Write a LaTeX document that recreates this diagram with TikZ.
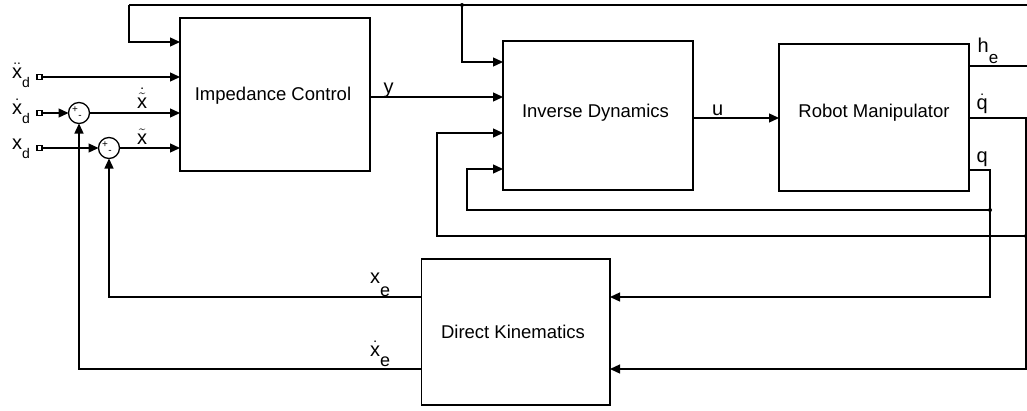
\documentclass[tikz,border=0pt]{standalone}
\usepackage{fontspec}
\setmainfont{Liberation Sans}
\setmathsf{Liberation Sans}
\usetikzlibrary{arrows.meta}
\newcommand\lowsub[3]{\raisebox{-#2pt}{\fontsize{#1}{#1}\selectfont #3}}
\newcommand\vx{\mathsf{x}}
\begin{document}
\begin{tikzpicture}[x=1pt,y=-1pt, line width=1.3pt,
  >={Triangle[length=10pt,width=9pt]},
  blk/.style={draw, rectangle, outer sep=0pt, inner sep=0pt, anchor=north west},
  btxt/.style={anchor=base, font=\fontsize{18.5}{22}\selectfont, inner sep=0pt},
  sig/.style={anchor=base west, font=\fontsize{20}{24}\selectfont, inner sep=0pt},
  sumc/.style={draw, circle, minimum size=21pt, inner sep=0pt, outer sep=0pt},
  sgn/.style={font=\fontsize{10}{10}\selectfont, inner sep=0pt},
  port/.style={draw, rectangle, minimum size=5pt, inner sep=0pt, line width=1.1pt, fill=white},
  jdot/.style={circle, fill, inner sep=0pt, minimum size=4pt}]
\useasboundingbox (0,0) rectangle (1027,410);

% blocks
\node[blk, minimum width=190pt, minimum height=153pt] (imp) at (180,18) {};
\node[blk, minimum width=190pt, minimum height=149pt] (inv) at (503,41) {};
\node[blk, minimum width=190pt, minimum height=147pt] (rob) at (779,44) {};
\node[blk, minimum width=188.5pt, minimum height=146pt] (dk) at (421.5,259) {};
\node[btxt] (impT) at (273,100) {Impedance Control};
\node[btxt] (invT) at (595.5,117.3) {Inverse Dynamics};
\node[btxt] (robT) at (874,117.3) {Robot Manipulator};
\node[btxt] (dkT) at (513,338) {Direct Kinematics};

% input ports and summing junctions
\node[port] (p1) at (39.5,77) {};
\node[port] (p2) at (39.5,113) {};
\node[port] (p3) at (39.5,148) {};
\node[sumc] (s1) at (79,113) {};
\node[sumc] (s2) at (109,148) {};
\node[sgn] (s1p) at ([shift={(-4,-3)}]s1.center) {+};
\node[sgn] (s1m) at ([shift={(1,4)}]s1.center) {-};
\node[sgn] (s2p) at ([shift={(-4,-3)}]s2.center) {+};
\node[sgn] (s2m) at ([shift={(1,4)}]s2.center) {-};

% coordinates
\coordinate (topL) at (129,5);
\coordinate (topR) at (1027,5);
\coordinate (jTop) at (462,5);
\coordinate (heEnd) at (1027,66);
\coordinate (jq) at (990,210);
\coordinate (jqd) at (1026,236);
\coordinate (lo) at (437,236);
\coordinate (li) at (467,210);

% connectors
\draw (topR) -- (topL);
\draw[->] (topL) |- (imp.west |- 0,42);
\draw[->] (jTop) |- (inv.west |- 0,62);
\node[jdot] (dTop) at (jTop) {};

\draw[->] (p1.east) -- (imp.west |- p1);
\draw[->] (p2.east) -- (s1);
\draw[->] (s1) -- (imp.west |- s1);
\draw[->] (p3.east) -- (s2);
\draw[->] (s2) -- (imp.west |- s2);

\draw[->] (imp.east |- 0,97) -- (inv.west |- 0,97);
\draw[->] (jqd) -- (lo) |- (inv.west |- 0,133);
\draw[->] (jq) -- (li) |- (inv.west |- 0,169);
\draw[->] (inv.east |- 0,118) -- (rob.west |- 0,118);

\draw (rob.east |- 0,66) -- (heEnd);
\draw[->] (rob.east |- 0,118) -| (jqd) |- (dk.east |- 0,369);
\draw[->] (rob.east |- 0,170) -| (jq) |- (dk.east |- 0,297);
\node[jdot] (dq) at (jq) {};
\node[jdot] (dqd) at (jqd) {};

\draw[->] (dk.west |- 0,297) -| (s2);
\draw[->] (dk.west |- 0,369) -| (s1);

% signal labels
\node[sig] (lxdd) at (11.5,78) {$\ddot{\vx}$\lowsub{14}{9}{d}};
\node[sig] (lxd) at (11.5,114) {$\dot{\vx}$\lowsub{14}{9}{d}};
\node[sig] (lx) at (11.5,149) {$\vx$\lowsub{14}{9}{d}};
\node[sig] (lxtd) at (136.5,108) {$\dot{\tilde{\vx}}$};
\node[sig] (lxt) at (136.5,144) {$\tilde{\vx}$};
\node[sig] (ly) at (383,93) {y};
\node[sig] (lu) at (711.5,115) {u};
\node[sig] (lhe) at (977,52) {h\lowsub{17}{11}{e}};
\node[sig] (lqd) at (976,109) {$\dot{\mathsf{q}}$};
\node[sig] (lq) at (976,162.5) {q};
\node[sig] (lxe) at (369.5,283) {x\lowsub{18}{13}{e}};
\node[sig] (lxde) at (369.5,356) {$\dot{\vx}$\lowsub{18}{10}{e}};
\end{tikzpicture}
\end{document}
